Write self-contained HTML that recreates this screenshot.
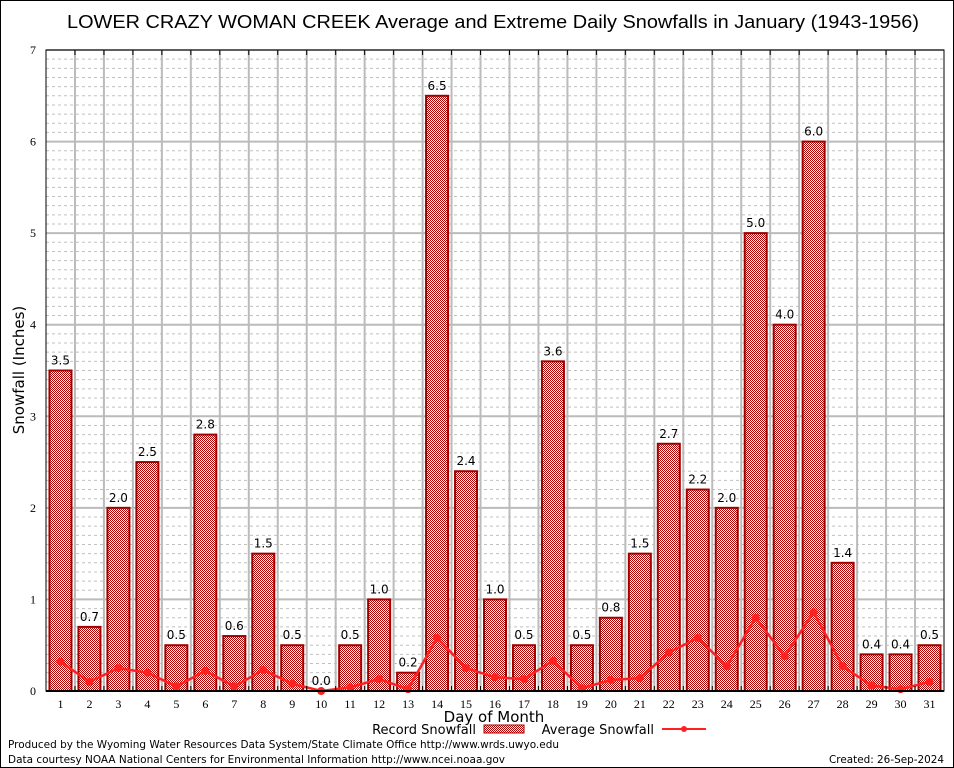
<!DOCTYPE html>
<html><head><meta charset="utf-8"><style>
body{margin:0;background:#fff;}
svg{display:block;font-family:"DejaVu Sans","Liberation Sans",sans-serif;}
</style></head><body>
<svg id="c" width="954" height="768" viewBox="0 0 954 768" xmlns="http://www.w3.org/2000/svg">
<defs>
<pattern id="chk" width="2" height="2" patternUnits="userSpaceOnUse">
<rect width="2" height="2" fill="#fff"/>
<rect width="1" height="1" fill="#b00000"/>
<rect x="1" y="1" width="1" height="1" fill="#b00000"/>
</pattern>
</defs>
<rect x="0.5" y="0.5" width="953" height="767" fill="#fff" stroke="#000"/>
<text x="493" y="28" font-size="18" text-anchor="middle" textLength="852" lengthAdjust="spacingAndGlyphs" font-family="Liberation Sans, sans-serif">LOWER CRAZY WOMAN CREEK Average and Extreme Daily Snowfalls in January (1943-1956)</text>
<g id="grid"></g>
<g id="bars"></g>
<g id="avg"></g>
<g id="axes"></g>
<text x="24" y="370" font-size="15" text-anchor="middle" transform="rotate(-90 24 370)">Snowfall (Inches)</text>
<text x="494" y="722" font-size="15" text-anchor="middle">Day of Month</text>
<g>
<text x="476" y="734" font-size="13" text-anchor="end">Record Snowfall</text>
<rect x="484" y="725" width="40" height="8" fill="url(#chk)" stroke="#a00000"/>
<text x="654" y="734" font-size="13" text-anchor="end">Average Snowfall</text>
<line x1="662" y1="729" x2="706" y2="729" stroke="#ff2020" stroke-width="2"/>
<circle cx="684" cy="729" r="3" fill="#ff2020"/>
</g>
<text x="8" y="748" font-size="11" textLength="551" lengthAdjust="spacingAndGlyphs">Produced by the Wyoming Water Resources Data System/State Climate Office http://www.wrds.uwyo.edu</text>
<text x="8" y="763" font-size="11" textLength="497" lengthAdjust="spacingAndGlyphs">Data courtesy NOAA National Centers for Environmental Information http://www.ncei.noaa.gov</text>
<text x="944" y="763" font-size="11" text-anchor="end" textLength="115" lengthAdjust="spacingAndGlyphs">Created: 26-Sep-2024</text>
</svg>
<script>
const days = [1,2,3,4,5,6,7,8,9,10,11,12,13,14,15,16,17,18,19,20,21,22,23,24,25,26,27,28,29,30,31];
const recordValues = [3.5,0.7,2.0,2.5,0.5,2.8,0.6,1.5,0.5,0.0,0.5,1.0,0.2,6.5,2.4,1.0,0.5,3.6,0.5,0.8,1.5,2.7,2.2,2.0,5.0,4.0,6.0,1.4,0.4,0.4,0.5];
const averageValues = [0.32,0.1,0.25,0.2,0.05,0.22,0.05,0.23,0.08,0.0,0.04,0.13,0.02,0.58,0.25,0.15,0.13,0.33,0.03,0.12,0.14,0.42,0.58,0.27,0.8,0.38,0.86,0.27,0.06,0.02,0.1];
const yTicks = [0,1,2,3,4,5,6,7];
const NS="http://www.w3.org/2000/svg";
const L=46,R=944,T=50,B=691,yMax=7;
const bw=(R-L)/days.length;
const x=i=>L+bw*(i+0.5);
const y=v=>B-(v/yMax)*(B-T);
function mk(tag,attrs,parent,txt){const e=document.createElementNS(NS,tag);for(const k in attrs)e.setAttribute(k,attrs[k]);if(txt!==undefined)e.textContent=txt;parent.appendChild(e);return e;}
const grid=document.getElementById('grid'),bars=document.getElementById('bars'),avg=document.getElementById('avg'),axes=document.getElementById('axes');
for(let m=1;m<yMax*10;m++){if(m%10===0)continue;const l=mk('line',{x1:L,x2:R,y1:y(m/10),y2:y(m/10),stroke:'#c0c0c0','stroke-dasharray':'3,3','stroke-width':1},grid);

}
yTicks.forEach(t=>{const l=mk('line',{x1:L,x2:R,y1:y(t),y2:y(t),stroke:'#bbb','stroke-width':2},grid);


const tx=mk('text',{x:L-10,y:y(t)+4,'font-size':12,'text-anchor':'end','font-family':'Liberation Serif, serif'},axes,String(t));

});
for(let i=1;i<days.length;i++){const xx=L+bw*i;const l=mk('line',{x1:xx,x2:xx,y1:T,y2:B,stroke:'#bbb','stroke-width':2},grid);


mk('line',{x1:xx,x2:xx,y1:T,y2:T+5,stroke:'#000'},axes);mk('line',{x1:xx,x2:xx,y1:B,y2:B-5,stroke:'#000'},axes);}
days.forEach((d,i)=>{const v=recordValues[i];const w=22;
const r=mk('rect',{x:x(i)-w/2,y:y(v),width:w,height:B-y(v),fill:'url(#chk)',stroke:'#a00000','stroke-width':2},bars);


const t=mk('text',{x:x(i),y:y(v)-6,'font-size':12,'text-anchor':'middle'},bars,v.toFixed(1));


const xl=mk('text',{x:x(i),y:B+17,'font-size':12,'text-anchor':'middle','font-family':'Liberation Serif, serif'},axes,String(d));

});
const pl=mk('polyline',{points:averageValues.map((v,i)=>x(i)+','+y(v)).join(' '),fill:'none',stroke:'#ff2020','stroke-width':2.5},avg);


averageValues.forEach((v,i)=>{const c=mk('circle',{cx:x(i),cy:y(v),r:4,fill:'#ff2020'},avg);

});
const fr=mk('rect',{x:L,y:T,width:R-L,height:B-T,fill:'none',stroke:'#000','stroke-width':1},axes);


const base=mk('line',{x1:L,x2:R,y1:B,y2:B,stroke:'#000','stroke-width':2},axes);


</script>
</body></html>
